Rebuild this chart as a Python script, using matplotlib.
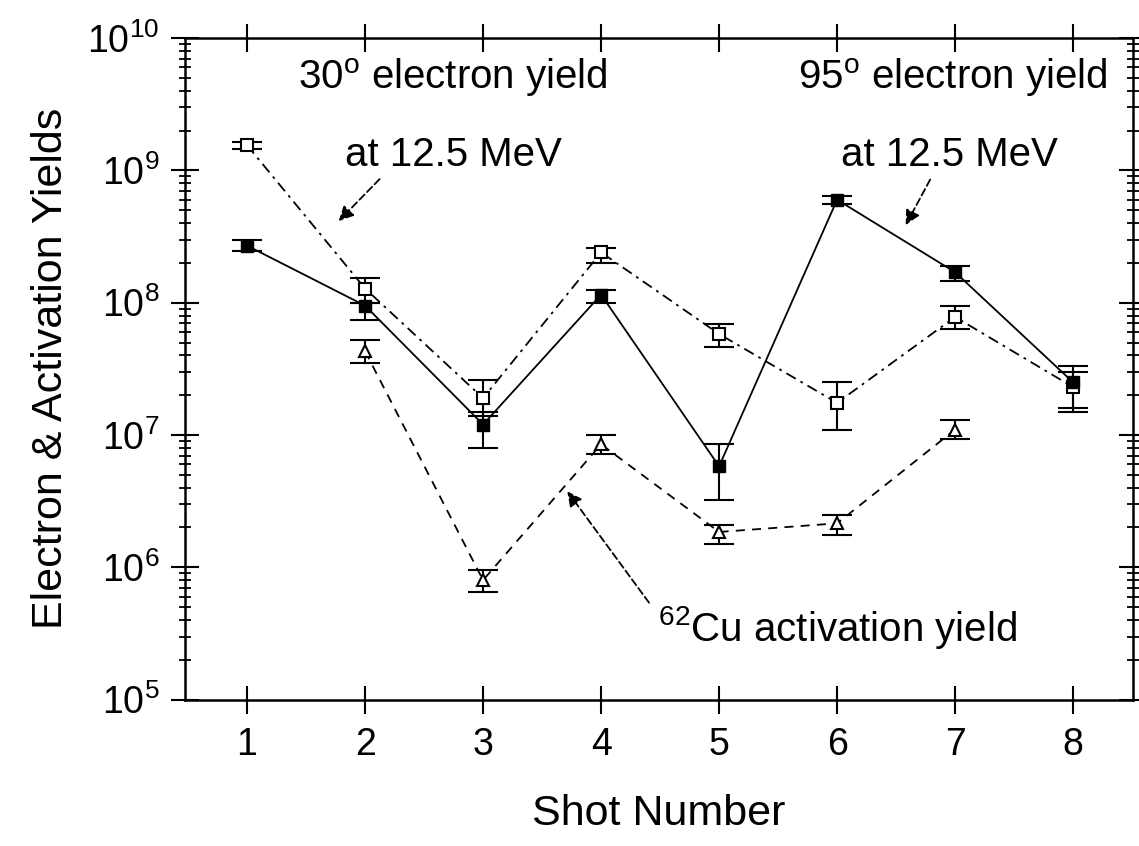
import matplotlib.pyplot as plt
import numpy as np

plt.rcParams['font.family'] = ['Liberation Sans', 'DejaVu Sans']
plt.rcParams['mathtext.fontset'] = 'custom'
plt.rcParams['mathtext.rm'] = 'Liberation Sans'
plt.rcParams['mathtext.it'] = 'Liberation Sans:italic'

# shot numbers
shots = [1, 2, 3, 4, 5, 6, 7, 8]
cu_shots = [2, 3, 4, 5, 6, 7]

# 95 deg electron yield (filled squares, solid line)
e95 = [2.7e8, 9.5e7, 1.2e7, 1.15e8, 5.8e6, 6.0e8, 1.7e8, 2.5e7]
e95_lo = [2.45e8, 7.4e7, 8.0e6, 1.0e8, 3.2e6, 5.6e8, 1.45e8, 1.6e7]
e95_hi = [3.0e8, 1.0e8, 1.5e7, 1.25e8, 8.5e6, 6.4e8, 1.9e8, 3.3e7]

# 30 deg electron yield (open squares, dash-dot line)
e30 = [1.55e9, 1.28e8, 1.9e7, 2.4e8, 5.8e7, 1.75e7, 7.8e7, 2.3e7]
e30_lo = [1.45e9, 1.0e8, 1.4e7, 2.0e8, 4.6e7, 1.1e7, 6.3e7, 1.5e7]
e30_hi = [1.65e9, 1.55e8, 2.6e7, 2.6e8, 6.9e7, 2.5e7, 9.5e7, 3.0e7]

# 62Cu activation yield (open triangles, dashed line)
cu62 = [4.3e7, 8.0e5, 8.5e6, 1.85e6, 2.15e6, 1.1e7]
cu62_lo = [3.5e7, 6.5e5, 7.2e6, 1.5e6, 1.75e6, 9.3e6]
cu62_hi = [5.2e7, 9.5e5, 1.0e7, 2.1e6, 2.5e6, 1.3e7]


def yerr(v, lo, hi):
    v = np.array(v)
    return [v - np.array(lo), np.array(hi) - v]


fig = plt.figure(figsize=(11.39, 8.46), dpi=100)
ax = fig.add_axes([0.162, 0.173, 0.833, 0.782])

ax.errorbar(shots, e30, yerr=yerr(e30, e30_lo, e30_hi), color='black',
            linestyle=(0, (6, 3, 1.5, 3)), lw=1.3, marker='s', ms=8,
            mfc='white', mec='black', mew=1.5, capsize=11, elinewidth=1.5,
            capthick=1.5)
ax.errorbar(cu_shots, cu62, yerr=yerr(cu62, cu62_lo, cu62_hi), color='black',
            linestyle=(0, (5, 4)), lw=1.3, marker='^', ms=9,
            mfc='white', mec='black', mew=1.5, capsize=11, elinewidth=1.5,
            capthick=1.5)
ax.errorbar(shots, e95, yerr=yerr(e95, e95_lo, e95_hi), color='black',
            linestyle='-', lw=1.3, marker='s', ms=9,
            mfc='black', mec='black', capsize=11, elinewidth=1.5,
            capthick=1.5)

ax.set_yscale('log')
ax.set_ylim(1e5, 1e10)
ax.set_xlim(0.47, 8.51)
ax.set_xticks(shots)

ax.tick_params(axis='both', which='major', labelsize=27, width=1.5)
ax.tick_params(axis='x', which='major', direction='inout', length=20,
               top=True, pad=10)
ax.tick_params(axis='y', which='major', direction='inout', length=20,
               right=True, pad=8)
ax.tick_params(axis='y', which='minor', direction='inout', length=9,
               width=1.3, right=True)
for s in ax.spines.values():
    s.set_linewidth(1.8)

ax.set_xlabel('Shot Number', fontsize=31, labelpad=22)
ax.set_ylabel('Electron & Activation Yields', fontsize=31, labelpad=12)

ax.text(1.43, 5.0e9, '30$^{\\rm o}$ electron yield', fontsize=29, va='center')
ax.text(1.83, 1.3e9, 'at 12.5 MeV', fontsize=29, va='center')
ax.text(8.29, 5.0e9, '95$^{\\rm o}$ electron yield', fontsize=29,
        va='center', ha='right')
ax.text(7.87, 1.3e9, 'at 12.5 MeV', fontsize=29, va='center', ha='right')
ax.text(4.48, 3.5e5, '$^{62}$Cu activation yield', fontsize=29, va='center')

arrow = dict(arrowstyle='-|>', color='black', lw=1.3, mutation_scale=22,
             linestyle=(0, (4, 2)))
ax.annotate('', xy=(1.76, 4.0e8), xytext=(2.14, 8.9e8), arrowprops=arrow)
ax.annotate('', xy=(6.57, 3.7e8), xytext=(6.80, 8.9e8), arrowprops=arrow)
ax.annotate('', xy=(3.70, 3.9e6), xytext=(4.42, 5.2e5), arrowprops=arrow)

fig.savefig('out.png', dpi=100)
